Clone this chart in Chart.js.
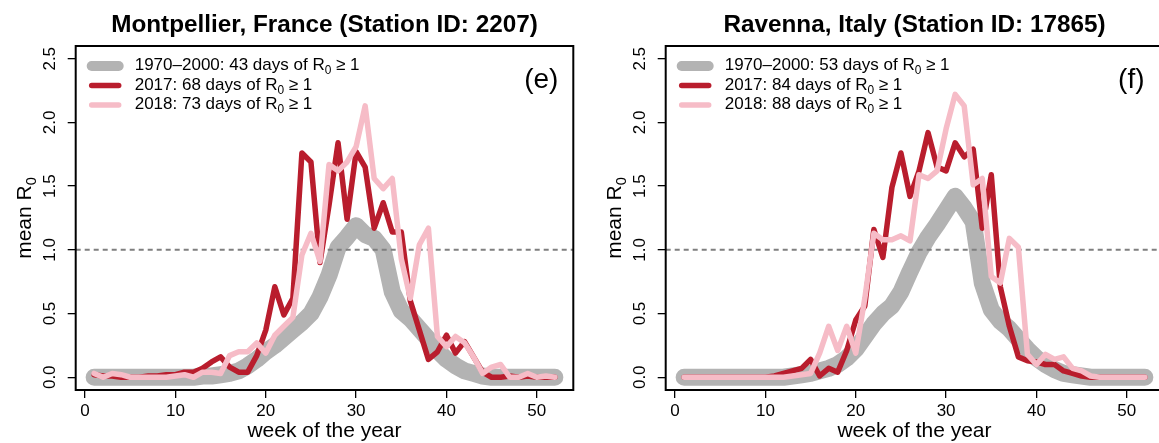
<!DOCTYPE html>
<html>
<head>
<meta charset="utf-8">
<script src="https://cdn.jsdelivr.net/npm/chart.js@4.4.1/dist/chart.umd.min.js"></script>
<style>
  html, body { margin: 0; padding: 0; background: #fff; width: 1159px; height: 443px; overflow: hidden; }
  .panel { position: absolute; top: 0; width: 580px; height: 443px; }
</style>
</head>
<body>
<div class="panel" style="left:0"><canvas id="panel-e"></canvas></div>
<div class="panel" style="left:590px"><canvas id="panel-f"></canvas></div>
<script>
// week of the year
const weeks = [1, 2, 3, 4, 5, 6, 7, 8, 9, 10, 11, 12, 13, 14, 15, 16, 17, 18, 19, 20,
  21, 22, 23, 24, 25, 26, 27, 28, 29, 30, 31, 32, 33, 34, 35, 36, 37, 38, 39, 40,
  41, 42, 43, 44, 45, 46, 47, 48, 49, 50, 51, 52];
const xTicks = [0, 10, 20, 30, 40, 50];
const yTicks = [0, 0.5, 1, 1.5, 2, 2.5];
const xRange = [-1.04, 54.04];
const yRange = [-0.1, 2.6];
const threshold = 1;
const periods = ['1970–2000', '2017', '2018'];

// Montpellier, France
const montpellierDays = [43, 68, 73];
const montpellierBaseline = [0, 0, 0, 0, 0, 0, 0, 0, 0, 0,
  0, 0, 0.01, 0.01, 0.02, 0.03, 0.05, 0.09, 0.14, 0.2,
  0.25, 0.31, 0.37, 0.43, 0.5, 0.63, 0.8, 1.02, 1.1, 1.19,
  1.12, 1.09, 1.0, 0.67, 0.52, 0.46, 0.38, 0.3, 0.21, 0.14,
  0.09, 0.05, 0.03, 0.01, 0, 0, 0, 0, 0, 0,
  0, 0];
const montpellier2017 = [0.02, 0.01, 0.01, 0, 0, 0, 0.01, 0.01, 0.02, 0.02,
  0.04, 0.04, 0.07, 0.12, 0.16, 0.08, 0.04, 0.04, 0.17, 0.37,
  0.71, 0.49, 0.62, 1.76, 1.69, 0.9, 1.35, 1.84, 1.24, 1.77,
  1.65, 1.17, 1.37, 1.14, 1.14, 0.6, 0.37, 0.14, 0.2, 0.33,
  0.19, 0.28, 0.16, 0.04, 0, 0, 0.01, 0, 0.01, 0,
  0, 0];
const montpellier2018 = [0.03, 0, 0.03, 0.02, 0, 0, 0, 0, 0, 0.01,
  0.02, 0, 0.04, 0.04, 0.03, 0.17, 0.2, 0.2, 0.27, 0.19,
  0.33, 0.4, 0.47, 0.96, 1.13, 0.91, 1.67, 1.62, 1.69, 1.81,
  2.13, 1.56, 1.48, 1.56, 0.93, 0.62, 1.04, 1.17, 0.32, 0.24,
  0.32, 0.27, 0.16, 0.03, 0.08, 0.1, 0, 0, 0.03, 0,
  0.01, 0];

// Ravenna, Italy
const ravennaDays = [53, 84, 88];
const ravennaBaseline = [0, 0, 0, 0, 0, 0, 0, 0, 0, 0,
  0, 0, 0.01, 0.02, 0.03, 0.05, 0.07, 0.1, 0.15, 0.22,
  0.32, 0.42, 0.5, 0.56, 0.67, 0.83, 0.98, 1.1, 1.2, 1.31,
  1.42, 1.33, 1.22, 0.74, 0.53, 0.44, 0.38, 0.3, 0.22, 0.15,
  0.1, 0.06, 0.03, 0.02, 0.01, 0, 0, 0, 0, 0,
  0, 0];
const ravenna2017 = [0, 0, 0, 0, 0, 0, 0, 0, 0, 0,
  0.01, 0.03, 0.05, 0.07, 0.14, 0.01, 0.07, 0.04, 0.21, 0.45,
  0.56, 1.16, 0.94, 1.49, 1.76, 1.42, 1.62, 1.92, 1.65, 1.62,
  1.84, 1.73, 1.79, 1.17, 1.59, 0.71, 0.4, 0.16, 0.13, 0.12,
  0.1, 0.1, 0.05, 0.03, 0.01, 0, 0, 0, 0, 0,
  0, 0];
const ravenna2018 = [0, 0, 0, 0, 0, 0, 0, 0, 0, 0,
  0, 0, 0.01, 0.02, 0.03, 0.19, 0.4, 0.21, 0.4, 0.19,
  0.62, 1.13, 1.08, 1.08, 1.11, 1.07, 1.59, 1.56, 1.62, 1.95,
  2.22, 2.13, 1.51, 1.56, 0.79, 0.74, 1.09, 1.02, 0.18, 0.1,
  0.18, 0.14, 0.16, 0.07, 0.05, 0.01, 0, 0, 0, 0,
  0, 0];

const colors = ['#b3b3b3', '#b91d2d', '#f6bcc7'];
const FONT = '"Liberation Sans", Arial, Helvetica, sans-serif';
Chart.defaults.font.family = FONT;
Chart.defaults.color = '#000';

// text with an optional subscript part: parts = [[text, isSub], ...]
function drawRich(ctx, parts, x, y, size, align) {
  const sub = size * 0.7;
  const widths = parts.map(([t, s]) => {
    ctx.font = (s ? sub : size) + 'px ' + FONT;
    return ctx.measureText(t).width;
  });
  const total = widths.reduce((a, b) => a + b, 0);
  let cx = align === 'center' ? x - total / 2 : x;
  ctx.textAlign = 'left';
  ctx.textBaseline = 'alphabetic';
  parts.forEach(([t, s], i) => {
    ctx.font = (s ? sub : size) + 'px ' + FONT;
    ctx.fillText(t, cx, s ? y + size * 0.25 : y);
    cx += widths[i];
  });
}

const panelText = {
  id: 'panelText',
  afterDraw(chart, args, opts) {
    const { ctx, chartArea: a, scales: { y } } = chart;
    const midX = (a.left + a.right) / 2;
    ctx.save();
    ctx.fillStyle = '#000';

    ctx.strokeStyle = '#000';
    ctx.lineWidth = 2;
    ctx.strokeRect(a.left, a.top, a.right - a.left, a.bottom - a.top);

    ctx.font = 'bold 24.3px ' + FONT;
    ctx.textAlign = 'center';
    ctx.textBaseline = 'alphabetic';
    ctx.fillText(opts.title, midX, 32);

    // y tick labels, parallel to the axis
    ctx.font = '17px ' + FONT;
    yTicks.forEach(v => {
      ctx.save();
      ctx.translate(a.left - 21, y.getPixelForValue(v));
      ctx.rotate(-Math.PI / 2);
      ctx.textAlign = 'center';
      ctx.fillText(v.toFixed(1), 0, 0);
      ctx.restore();
    });

    drawRich(ctx, [['week of the year']], midX, 437, 21, 'center');

    ctx.save();
    ctx.translate(31, (a.top + a.bottom) / 2);
    ctx.rotate(-Math.PI / 2);
    drawRich(ctx, [['mean R'], ['0', true]], 0, 0, 21, 'center');
    ctx.restore();

    // legend
    chart.data.datasets.filter(d => d.legendWidth).forEach((d, i) => {
      const cy = a.top + 20 + i * 19.5;
      ctx.strokeStyle = d.borderColor;
      ctx.lineWidth = d.legendWidth;
      ctx.lineCap = 'round';
      ctx.beginPath();
      ctx.moveTo(a.left + 16, cy);
      ctx.lineTo(a.left + 43, cy);
      ctx.stroke();
      drawRich(ctx, [[d.label + ': ' + opts.days[i] + ' days of R'], ['0', true], [' \u2265 1']],
        a.left + 59, cy + 4, 17, 'left');
    });

    ctx.font = '28px ' + FONT;
    ctx.textAlign = 'center';
    ctx.fillText(opts.letter, a.right - 32, a.top + 42);
    ctx.restore();
  }
};

function series(values) {
  return weeks.map((w, i) => ({ x: w, y: values[i] }));
}

function makePanel(id, title, letter, days, base, y2017, y2018) {
  const line = { pointRadius: 0, borderCapStyle: 'round', borderJoinStyle: 'round', tension: 0, fill: false };
  new Chart(document.getElementById(id), {
    type: 'line',
    data: {
      datasets: [
        { ...line, label: periods[0], data: series(base), borderColor: colors[0], borderWidth: 17, legendWidth: 10, order: 4 },
        { ...line, label: periods[1], data: series(y2017), borderColor: colors[1], borderWidth: 5.5, legendWidth: 5.5, order: 2 },
        { ...line, label: periods[2], data: series(y2018), borderColor: colors[2], borderWidth: 5.5, legendWidth: 5.5, order: 1 },
        {
          label: 'R0 = 1', data: [{ x: xRange[0], y: threshold }, { x: xRange[1], y: threshold }],
          borderColor: '#7f7f7f', borderWidth: 2, borderDash: [5, 4], pointRadius: 0, order: 3
        },
      ],
    },
    options: {
      responsive: true,
      maintainAspectRatio: false,
      animation: false,
      events: [],
      layout: { padding: { top: 46, right: 6.7, left: 0, bottom: 0 } },
      plugins: {
        legend: { display: false },
        title: { display: false },
        tooltip: { enabled: false },
        panelText: { title, letter, days },
      },
      scales: {
        x: {
          type: 'linear',
          min: xRange[0],
          max: xRange[1],
          afterBuildTicks: s => { s.ticks = xTicks.map(v => ({ value: v })); },
          afterFit: s => { s.height = 53; },
          ticks: { font: { size: 17 }, padding: 3, maxRotation: 0 },
          grid: { drawOnChartArea: false, tickLength: 8, color: '#000', lineWidth: 1.3 },
          border: { display: false },
        },
        y: {
          min: yRange[0],
          max: yRange[1],
          afterBuildTicks: s => { s.ticks = yTicks.map(v => ({ value: v })); },
          afterFit: s => { s.width = 75.7; },
          ticks: { display: false },
          grid: { drawOnChartArea: false, tickLength: 8, color: '#000', lineWidth: 1.3 },
          border: { display: false },
        },
      },
    },
    plugins: [panelText],
  });
}

makePanel('panel-e', 'Montpellier, France (Station ID: 2207)', '(e)', montpellierDays,
  montpellierBaseline, montpellier2017, montpellier2018);
makePanel('panel-f', 'Ravenna, Italy (Station ID: 17865)', '(f)', ravennaDays,
  ravennaBaseline, ravenna2017, ravenna2018);
</script>
</body>
</html>
